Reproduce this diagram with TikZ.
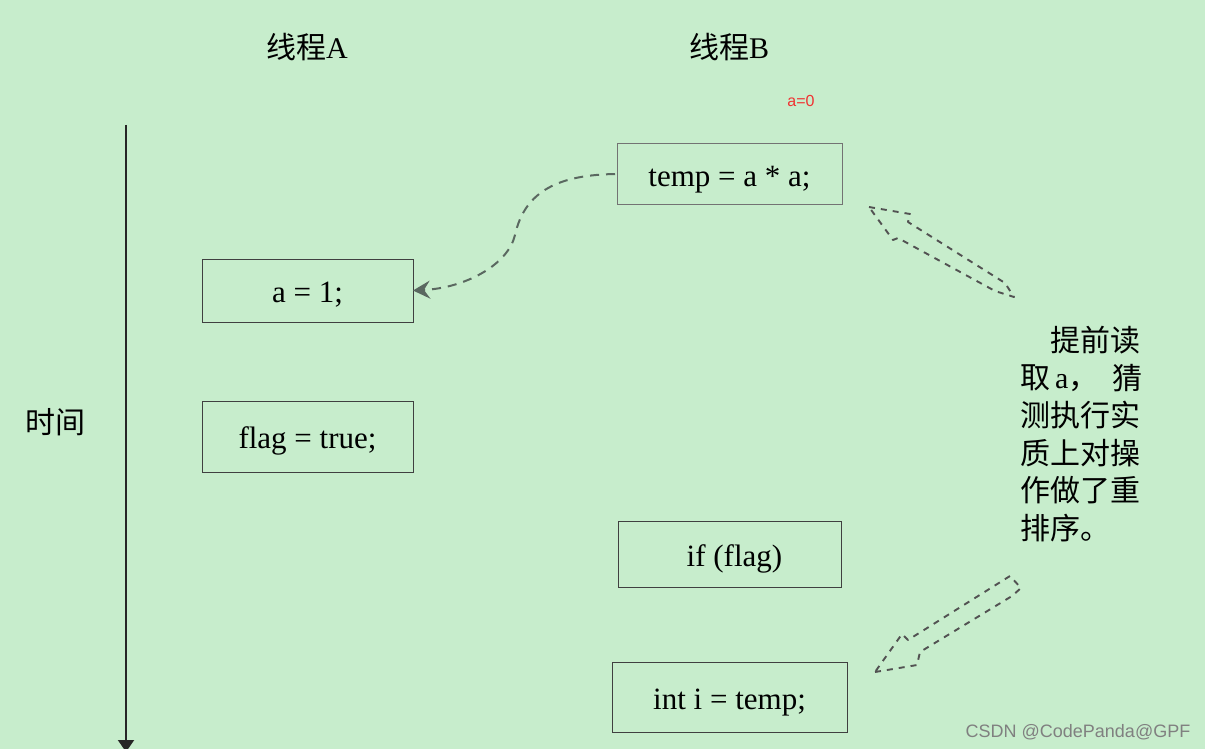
\documentclass[tikz,border=0pt]{standalone}
\usepackage{fontspec}
\setmainfont{Liberation Serif}
\newfontfamily\cjk{Noto Sans CJK SC}
\newfontfamily\wmfont{Liberation Sans}
\usetikzlibrary{arrows.meta}
\definecolor{bggreen}{RGB}{199,237,204}
\definecolor{curvegray}{RGB}{90,104,96}
\definecolor{labelred}{RGB}{240,50,50}
\tikzset{
  codebox/.style={draw=black!75, line width=1pt, inner sep=0pt, outer sep=0pt,
    text height=27pt, text depth=3pt,
    font=\fontsize{31}{31}\selectfont},
  title/.style={font=\fontsize{30}{30}\selectfont, inner sep=0pt},
  note/.style={font=\cjk\fontsize{30}{30}\selectfont, inner sep=0pt},
  readcurve/.style={draw=curvegray, line width=2pt, dash pattern=on 9pt off 7pt,
    -{Stealth[length=17pt,width=18pt,inset=6pt]}},
  hollowarrow/.style={draw=black!68, line width=1.9pt, dash pattern=on 6pt off 6pt,
    line join=round},
  timeline/.style={draw=black!85, line width=2pt, -{Triangle[length=12pt,width=16pt]}},
}
\begin{document}
\begin{tikzpicture}[x=1pt,y=-1pt]
\useasboundingbox (0,0) rectangle (1205,749);
\fill[bggreen] (0,0) rectangle (1205,749);

% titles
\node[title] (tA) at (307,47) {{\cjk 线程}A};
\node[title] (tB) at (729,47) {{\cjk 线程}B};
\node[font=\wmfont\fontsize{16}{16}\selectfont, text=labelred, inner sep=0pt] (a0) at (801,101) {a=0};

% time axis
\coordinate (tstart) at (126,125);
\coordinate (tend) at (126,752);
\draw[timeline] (tstart) -- (tend);
\node[title, font=\cjk\fontsize{30}{30}\selectfont] (time) at (55,422) {时间};

% code boxes
\node[codebox, minimum width=225pt, minimum height=60pt, draw=black!55] (temp) at (729.5,174) {temp = a * a;};
\node[codebox, minimum width=211pt, minimum height=63pt] (a1) at (307.5,290.5) {a = 1;};
\node[codebox, minimum width=211pt, minimum height=71pt] (flag) at (307.5,436.5) {flag = true;};
\node[codebox, minimum width=223pt, minimum height=66pt] (iff) at (729.5,554) {\hspace{10pt}if (flag)};
\node[codebox, minimum width=235pt, minimum height=70pt] (inti) at (729.5,697) {int i = temp;};

% dashed read curve
\draw[readcurve] ([xshift=-2pt]temp.west) .. controls (560,175) and (525,190) .. (515,235)
  .. controls (508,265) and (465,288) .. (a1.east);

% hollow dashed arrows
\draw[hollowarrow] (869,207) -- (910,214) -- (908,222) -- (1005,283) -- (1014,297)
  -- (995,291) -- (898,238) -- (893,240) -- cycle;
\draw[hollowarrow] (875,672) -- (917,665) -- (920,652) -- (1012,596) -- (1021,588)
  -- (1010,576) -- (908,640) -- (902,634) -- cycle;

% explanation text
\node[note, anchor=west] (n1) at (1050,340) {提前读};
\node[note, anchor=west] (n2a) at (1020,378) {取\,{\rmfamily a}，};
\node[note, anchor=east] (n2b) at (1143,378) {猜};
\node[note, anchor=west] (n3) at (1020,415) {测执行实};
\node[note, anchor=west] (n4) at (1020,453) {质上对操};
\node[note, anchor=west] (n5) at (1020,490) {作做了重};
\node[note, anchor=west] (n6) at (1020,528) {排序。};

% watermark
\node[font=\wmfont\fontsize{18}{18}\selectfont, text=black!50, inner sep=0pt] (wm) at (1078,732) {CSDN @CodePanda@GPF};
\end{tikzpicture}
\end{document}
